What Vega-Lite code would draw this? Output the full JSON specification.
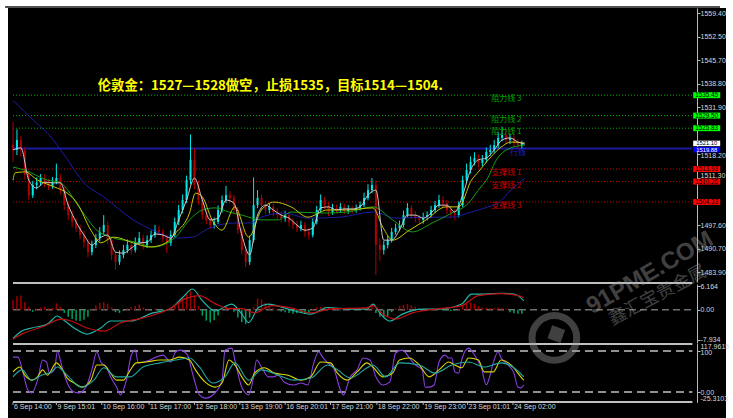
{
"$schema":"https://vega.github.io/schema/vega-lite/v6.json",
"width":718,"height":410,
"autosize":{"type":"none"},
"padding":{"left":8,"top":8,"right":7,"bottom":0},
"background":"#ffffff",
"config":{"view":{"fill":"#000000","stroke":null},
"axis":{"grid":false,"title":null,"labelOverlap":false,"labelFlush":false,"labelBound":false,"domainColor":"#b8b8b8","tickColor":"#b8b8b8","labelColor":"#d8d8d8","labelFont":"Liberation Sans","labelFontSize":7}},
"datasets":{
"candles":[
{"n":0,"o":1521.0,"c":1519.5,"h":1527.6,"l":1516.0,"m":2.5},
{"n":2,"o":1519.5,"c":1522.4,"h":1525.5,"l":1518.0,"m":3.5},
{"n":4,"o":1522.4,"c":1519.5,"h":1523.5,"l":1517.5,"m":3.7},
{"n":6,"o":1519.5,"c":1512.2,"h":1520.3,"l":1510.8,"m":2.0},
{"n":8,"o":1512.2,"c":1506.3,"h":1513.0,"l":1505.0,"m":0.8},
{"n":10,"o":1506.3,"c":1509.3,"h":1510.5,"l":1505.5,"m":-0.5},
{"n":12,"o":1509.3,"c":1509.9,"h":1511.5,"l":1508.0,"m":0.3},
{"n":14,"o":1509.9,"c":1511.3,"h":1512.5,"l":1509.0,"m":0.6},
{"n":16,"o":1511.3,"c":1509.9,"h":1512.4,"l":1508.6,"m":0.8},
{"n":18,"o":1509.9,"c":1509.0,"h":1511.0,"l":1507.8,"m":0.4},
{"n":20,"o":1509.0,"c":1510.1,"h":1511.6,"l":1508.2,"m":0.5},
{"n":22,"o":1510.1,"c":1511.3,"h":1515.5,"l":1509.5,"m":1.7},
{"n":24,"o":1511.3,"c":1507.8,"h":1512.4,"l":1506.5,"m":0.8},
{"n":26,"o":1507.8,"c":1503.4,"h":1508.6,"l":1502.0,"m":-0.8},
{"n":28,"o":1503.4,"c":1500.5,"h":1504.5,"l":1499.0,"m":-1.8},
{"n":30,"o":1500.5,"c":1498.5,"h":1501.8,"l":1497.0,"m":-2.4},
{"n":32,"o":1498.5,"c":1496.7,"h":1499.6,"l":1495.5,"m":-2.8},
{"n":34,"o":1496.7,"c":1494.7,"h":1497.8,"l":1493.5,"m":-2.9},
{"n":36,"o":1494.7,"c":1492.6,"h":1495.9,"l":1491.0,"m":-2.6},
{"n":38,"o":1492.6,"c":1489.7,"h":1493.5,"l":1488.2,"m":-1.8},
{"n":40,"o":1489.7,"c":1491.8,"h":1493.0,"l":1488.8,"m":0.3},
{"n":42,"o":1491.8,"c":1493.8,"h":1495.0,"l":1490.9,"m":1.2},
{"n":44,"o":1493.8,"c":1495.6,"h":1497.0,"l":1492.8,"m":1.8},
{"n":46,"o":1495.6,"c":1497.6,"h":1500.5,"l":1494.8,"m":2.0},
{"n":48,"o":1497.6,"c":1493.2,"h":1498.6,"l":1492.0,"m":1.6},
{"n":50,"o":1493.2,"c":1488.9,"h":1494.0,"l":1487.5,"m":0.6},
{"n":52,"o":1488.9,"c":1486.8,"h":1490.0,"l":1484.6,"m":-0.6},
{"n":54,"o":1486.8,"c":1488.9,"h":1490.2,"l":1486.0,"m":-0.8},
{"n":56,"o":1488.9,"c":1490.3,"h":1491.8,"l":1487.9,"m":-0.3},
{"n":58,"o":1490.3,"c":1491.8,"h":1493.4,"l":1489.4,"m":0.4},
{"n":60,"o":1491.8,"c":1490.3,"h":1492.9,"l":1489.0,"m":0.8},
{"n":62,"o":1490.3,"c":1492.6,"h":1494.0,"l":1489.6,"m":1.0},
{"n":64,"o":1492.6,"c":1493.8,"h":1495.6,"l":1491.8,"m":1.4},
{"n":66,"o":1493.8,"c":1491.8,"h":1494.8,"l":1490.5,"m":0.6},
{"n":68,"o":1491.8,"c":1493.2,"h":1494.6,"l":1490.9,"m":0.2},
{"n":70,"o":1493.2,"c":1494.7,"h":1496.0,"l":1492.4,"m":-0.2},
{"n":72,"o":1494.7,"c":1496.1,"h":1497.6,"l":1493.9,"m":0.3},
{"n":74,"o":1496.1,"c":1495.6,"h":1497.4,"l":1494.6,"m":-0.3},
{"n":76,"o":1495.6,"c":1493.8,"h":1496.5,"l":1492.6,"m":-0.4},
{"n":78,"o":1493.8,"c":1492.4,"h":1494.8,"l":1489.5,"m":0.2},
{"n":80,"o":1492.4,"c":1494.7,"h":1496.0,"l":1491.5,"m":0.3},
{"n":82,"o":1494.7,"c":1498.5,"h":1499.8,"l":1494.0,"m":1.0},
{"n":84,"o":1498.5,"c":1502.0,"h":1503.5,"l":1497.6,"m":2.0},
{"n":86,"o":1502.0,"c":1504.9,"h":1506.5,"l":1501.0,"m":3.0},
{"n":88,"o":1504.9,"c":1510.7,"h":1512.0,"l":1504.0,"m":4.0},
{"n":90,"o":1510.7,"c":1516.6,"h":1524.0,"l":1509.5,"m":5.0},
{"n":92,"o":1516.6,"c":1509.3,"h":1520.0,"l":1508.0,"m":3.5},
{"n":94,"o":1509.3,"c":1504.9,"h":1510.6,"l":1503.6,"m":1.0},
{"n":96,"o":1504.9,"c":1500.5,"h":1506.0,"l":1499.2,"m":-1.5},
{"n":98,"o":1500.5,"c":1499.1,"h":1501.8,"l":1497.8,"m":-2.8},
{"n":100,"o":1499.1,"c":1497.6,"h":1500.2,"l":1496.4,"m":-3.3},
{"n":102,"o":1497.6,"c":1498.5,"h":1499.8,"l":1496.6,"m":-2.7},
{"n":104,"o":1498.5,"c":1502.0,"h":1503.3,"l":1497.9,"m":-1.5},
{"n":106,"o":1502.0,"c":1504.9,"h":1506.2,"l":1501.2,"m":0.4},
{"n":108,"o":1504.9,"c":1506.3,"h":1509.0,"l":1504.0,"m":0.8},
{"n":110,"o":1506.3,"c":1505.5,"h":1507.5,"l":1504.2,"m":0.6},
{"n":112,"o":1505.5,"c":1502.0,"h":1506.4,"l":1500.8,"m":-0.5},
{"n":114,"o":1502.0,"c":1496.1,"h":1502.8,"l":1495.0,"m":-2.0},
{"n":116,"o":1496.1,"c":1490.3,"h":1497.0,"l":1489.0,"m":-3.2},
{"n":118,"o":1490.3,"c":1486.8,"h":1491.2,"l":1485.3,"m":-3.7},
{"n":120,"o":1486.8,"c":1493.2,"h":1494.5,"l":1486.0,"m":-2.0},
{"n":122,"o":1493.2,"c":1503.4,"h":1511.5,"l":1492.5,"m":0.8},
{"n":124,"o":1503.4,"c":1505.5,"h":1507.8,"l":1502.5,"m":2.9},
{"n":126,"o":1505.5,"c":1503.4,"h":1506.5,"l":1502.2,"m":2.7},
{"n":128,"o":1503.4,"c":1502.0,"h":1504.6,"l":1500.8,"m":1.8},
{"n":130,"o":1502.0,"c":1502.9,"h":1504.0,"l":1501.0,"m":1.0},
{"n":132,"o":1502.9,"c":1501.4,"h":1503.8,"l":1500.2,"m":0.5},
{"n":134,"o":1501.4,"c":1500.5,"h":1502.6,"l":1499.4,"m":0.2},
{"n":136,"o":1500.5,"c":1499.6,"h":1501.5,"l":1498.4,"m":-0.4},
{"n":138,"o":1499.6,"c":1500.5,"h":1501.8,"l":1498.6,"m":-0.6},
{"n":140,"o":1500.5,"c":1498.5,"h":1501.4,"l":1497.2,"m":-0.8},
{"n":142,"o":1498.5,"c":1497.6,"h":1499.6,"l":1496.4,"m":-1.0},
{"n":144,"o":1497.6,"c":1496.7,"h":1498.8,"l":1495.5,"m":-0.9},
{"n":146,"o":1496.7,"c":1497.6,"h":1498.9,"l":1495.8,"m":-0.7},
{"n":148,"o":1497.6,"c":1495.6,"h":1498.5,"l":1494.2,"m":-1.0},
{"n":150,"o":1495.6,"c":1494.7,"h":1496.8,"l":1493.4,"m":-0.8},
{"n":152,"o":1494.7,"c":1498.5,"h":1499.6,"l":1494.0,"m":0.2},
{"n":154,"o":1498.5,"c":1502.0,"h":1503.2,"l":1497.8,"m":0.6},
{"n":156,"o":1502.0,"c":1504.9,"h":1506.5,"l":1501.2,"m":0.8},
{"n":158,"o":1504.9,"c":1503.4,"h":1505.9,"l":1502.2,"m":0.7},
{"n":160,"o":1503.4,"c":1501.4,"h":1504.2,"l":1500.2,"m":0.5},
{"n":162,"o":1501.4,"c":1502.6,"h":1503.8,"l":1500.6,"m":0.3},
{"n":164,"o":1502.6,"c":1502.0,"h":1503.6,"l":1501.0,"m":0.2},
{"n":166,"o":1502.0,"c":1502.9,"h":1504.0,"l":1501.2,"m":-0.2},
{"n":168,"o":1502.9,"c":1501.7,"h":1503.8,"l":1500.8,"m":0.1},
{"n":170,"o":1501.7,"c":1502.3,"h":1503.4,"l":1500.9,"m":0.2},
{"n":172,"o":1502.3,"c":1502.0,"h":1503.2,"l":1501.0,"m":0.4},
{"n":174,"o":1502.0,"c":1502.6,"h":1503.6,"l":1501.2,"m":0.5},
{"n":176,"o":1502.6,"c":1503.4,"h":1504.5,"l":1501.8,"m":0.5},
{"n":178,"o":1503.4,"c":1505.5,"h":1507.0,"l":1502.8,"m":0.6},
{"n":180,"o":1505.5,"c":1507.8,"h":1509.5,"l":1504.8,"m":0.8},
{"n":182,"o":1507.8,"c":1509.3,"h":1511.3,"l":1506.9,"m":0.9},
{"n":184,"o":1509.3,"c":1491.8,"h":1510.6,"l":1483.1,"m":-0.8},
{"n":186,"o":1491.8,"c":1490.3,"h":1493.6,"l":1487.2,"m":-1.8},
{"n":188,"o":1490.3,"c":1491.8,"h":1493.0,"l":1489.0,"m":-2.0},
{"n":190,"o":1491.8,"c":1493.2,"h":1494.5,"l":1490.8,"m":-1.6},
{"n":192,"o":1493.2,"c":1495.6,"h":1496.8,"l":1492.5,"m":-0.6},
{"n":194,"o":1495.6,"c":1496.7,"h":1498.0,"l":1494.8,"m":0.4},
{"n":196,"o":1496.7,"c":1497.6,"h":1498.9,"l":1495.8,"m":1.0},
{"n":198,"o":1497.6,"c":1500.5,"h":1501.8,"l":1496.9,"m":1.3},
{"n":200,"o":1500.5,"c":1502.6,"h":1504.0,"l":1499.8,"m":1.5},
{"n":202,"o":1502.6,"c":1500.5,"h":1503.4,"l":1499.4,"m":1.2},
{"n":204,"o":1500.5,"c":1499.6,"h":1501.7,"l":1498.4,"m":0.8},
{"n":206,"o":1499.6,"c":1499.1,"h":1500.6,"l":1497.9,"m":0.3},
{"n":208,"o":1499.1,"c":1499.9,"h":1501.2,"l":1498.0,"m":0.1},
{"n":210,"o":1499.9,"c":1500.5,"h":1501.6,"l":1499.0,"m":-0.2},
{"n":212,"o":1500.5,"c":1502.0,"h":1503.2,"l":1499.7,"m":0.1},
{"n":214,"o":1502.0,"c":1503.4,"h":1504.6,"l":1501.2,"m":0.2},
{"n":216,"o":1503.4,"c":1504.9,"h":1506.4,"l":1502.6,"m":0.3},
{"n":218,"o":1504.9,"c":1504.0,"h":1506.0,"l":1502.8,"m":-0.1},
{"n":220,"o":1504.0,"c":1502.0,"h":1504.9,"l":1500.8,"m":-0.2},
{"n":222,"o":1502.0,"c":1501.1,"h":1503.0,"l":1499.9,"m":-0.3},
{"n":224,"o":1501.1,"c":1500.5,"h":1502.2,"l":1499.0,"m":-0.2},
{"n":226,"o":1500.5,"c":1503.4,"h":1504.5,"l":1499.8,"m":0.3},
{"n":228,"o":1503.4,"c":1510.7,"h":1512.0,"l":1502.8,"m":1.0},
{"n":230,"o":1510.7,"c":1513.6,"h":1515.5,"l":1509.8,"m":1.6},
{"n":232,"o":1513.6,"c":1516.0,"h":1517.6,"l":1512.6,"m":1.9},
{"n":234,"o":1516.0,"c":1517.1,"h":1518.8,"l":1515.0,"m":1.6},
{"n":236,"o":1517.1,"c":1515.7,"h":1518.2,"l":1514.4,"m":1.0},
{"n":238,"o":1515.7,"c":1516.6,"h":1518.0,"l":1514.8,"m":0.6},
{"n":240,"o":1516.6,"c":1518.9,"h":1520.2,"l":1515.8,"m":0.5},
{"n":242,"o":1518.9,"c":1519.5,"h":1521.0,"l":1517.8,"m":0.4},
{"n":244,"o":1519.5,"c":1520.9,"h":1522.4,"l":1518.6,"m":0.5},
{"n":246,"o":1520.9,"c":1523.0,"h":1524.6,"l":1520.0,"m":0.6},
{"n":248,"o":1523.0,"c":1523.8,"h":1526.3,"l":1522.0,"m":0.5},
{"n":250,"o":1523.8,"c":1522.4,"h":1525.5,"l":1521.4,"m":0.3},
{"n":252,"o":1522.4,"c":1523.0,"h":1524.2,"l":1521.2,"m":-0.6},
{"n":254,"o":1523.0,"c":1521.5,"h":1523.8,"l":1520.5,"m":-0.9},
{"n":256,"o":1521.5,"c":1520.9,"h":1522.6,"l":1519.8,"m":-1.0},
{"n":258,"o":1520.9,"c":1521.2,"h":1522.2,"l":1519.9,"m":-1.0}
],
"ma":[
{"n":0,"p":1534.0,"s":"navy"},{"n":6,"p":1530.5,"s":"navy"},{"n":13.5,"p":1526.5,"s":"navy"},{"n":18.5,"p":1523.8,"s":"navy"},{"n":26,"p":1518.0,"s":"navy"},{"n":36,"p":1509.9,"s":"navy"},{"n":46,"p":1505.8,"s":"navy"},{"n":61,"p":1499.1,"s":"navy"},{"n":71,"p":1496.1,"s":"navy"},{"n":82.5,"p":1493.8,"s":"navy"},{"n":91,"p":1494.1,"s":"navy"},{"n":99.5,"p":1496.7,"s":"navy"},{"n":112.5,"p":1498.2,"s":"navy"},{"n":121,"p":1498.2,"s":"navy"},{"n":124.5,"p":1499.6,"s":"navy"},{"n":137.5,"p":1501.1,"s":"navy"},{"n":149.5,"p":1499.6,"s":"navy"},{"n":166,"p":1499.9,"s":"navy"},{"n":182.5,"p":1501.4,"s":"navy"},{"n":194.5,"p":1499.6,"s":"navy"},{"n":209.5,"p":1499.9,"s":"navy"},{"n":222.5,"p":1499.9,"s":"navy"},{"n":232.5,"p":1501.4,"s":"navy"},{"n":241,"p":1502.9,"s":"navy"},{"n":246,"p":1504.0,"s":"navy"},{"n":252.5,"p":1507.8,"s":"navy"},{"n":259.5,"p":1511.3,"s":"navy"},
{"n":0,"p":1514.5,"s":"green"},{"n":6,"p":1513.6,"s":"green"},{"n":17.5,"p":1510.7,"s":"green"},{"n":23.5,"p":1510.1,"s":"green"},{"n":34.5,"p":1502.0,"s":"green"},{"n":42.5,"p":1496.1,"s":"green"},{"n":49.5,"p":1494.1,"s":"green"},{"n":62.5,"p":1492.6,"s":"green"},{"n":71,"p":1491.2,"s":"green"},{"n":82.5,"p":1494.1,"s":"green"},{"n":89.5,"p":1499.1,"s":"green"},{"n":96,"p":1502.0,"s":"green"},{"n":102.5,"p":1502.6,"s":"green"},{"n":109.5,"p":1501.4,"s":"green"},{"n":116,"p":1500.5,"s":"green"},{"n":126,"p":1499.1,"s":"green"},{"n":134.5,"p":1499.1,"s":"green"},{"n":141,"p":1501.4,"s":"green"},{"n":157.5,"p":1501.1,"s":"green"},{"n":169.5,"p":1501.4,"s":"green"},{"n":182.5,"p":1502.9,"s":"green"},{"n":192.5,"p":1499.1,"s":"green"},{"n":202.5,"p":1495.6,"s":"green"},{"n":212.5,"p":1498.2,"s":"green"},{"n":222.5,"p":1501.1,"s":"green"},{"n":231,"p":1504.0,"s":"green"},{"n":236,"p":1507.8,"s":"green"},{"n":241,"p":1511.6,"s":"green"},{"n":244.5,"p":1516.0,"s":"green"},{"n":252.5,"p":1520.1,"s":"green"},{"n":259.5,"p":1520.9,"s":"green"},
{"n":0,"p":1510.7,"s":"yellow"},{"n":1,"p":1512.8,"s":"yellow"},{"n":6,"p":1513.1,"s":"yellow"},{"n":12.5,"p":1510.7,"s":"yellow"},{"n":21,"p":1508.7,"s":"yellow"},{"n":27.5,"p":1506.9,"s":"yellow"},{"n":32.5,"p":1504.0,"s":"yellow"},{"n":39.5,"p":1496.1,"s":"yellow"},{"n":44.5,"p":1492.4,"s":"yellow"},{"n":51,"p":1494.1,"s":"yellow"},{"n":61,"p":1492.4,"s":"yellow"},{"n":69.5,"p":1491.2,"s":"yellow"},{"n":77.5,"p":1492.4,"s":"yellow"},{"n":82.5,"p":1495.3,"s":"yellow"},{"n":89.5,"p":1501.1,"s":"yellow"},{"n":92.5,"p":1506.9,"s":"yellow"},{"n":96,"p":1505.8,"s":"yellow"},{"n":101,"p":1499.1,"s":"yellow"},{"n":106,"p":1496.1,"s":"yellow"},{"n":112.5,"p":1502.9,"s":"yellow"},{"n":119.5,"p":1494.1,"s":"yellow"},{"n":126,"p":1502.0,"s":"yellow"},{"n":132.5,"p":1504.3,"s":"yellow"},{"n":141,"p":1502.9,"s":"yellow"},{"n":149.5,"p":1499.9,"s":"yellow"},{"n":159.5,"p":1502.0,"s":"yellow"},{"n":169.5,"p":1502.0,"s":"yellow"},{"n":182.5,"p":1502.6,"s":"yellow"},{"n":187.5,"p":1497.0,"s":"yellow"},{"n":192.5,"p":1493.2,"s":"yellow"},{"n":201,"p":1496.1,"s":"yellow"},{"n":209.5,"p":1499.1,"s":"yellow"},{"n":219.5,"p":1502.9,"s":"yellow"},{"n":226,"p":1502.9,"s":"yellow"},{"n":232.5,"p":1510.7,"s":"yellow"},{"n":236,"p":1513.1,"s":"yellow"},{"n":241,"p":1516.6,"s":"yellow"},{"n":247.5,"p":1520.3,"s":"yellow"},{"n":252.5,"p":1521.8,"s":"yellow"},{"n":259.5,"p":1521.5,"s":"yellow"},
{"n":0,"p":1519.5,"s":"white"},{"n":4,"p":1520.1,"s":"white"},{"n":8,"p":1510.7,"s":"white"},{"n":12,"p":1508.4,"s":"white"},{"n":16,"p":1510.1,"s":"white"},{"n":20,"p":1509.9,"s":"white"},{"n":24,"p":1509.9,"s":"white"},{"n":28,"p":1503.4,"s":"white"},{"n":32,"p":1498.5,"s":"white"},{"n":36,"p":1494.7,"s":"white"},{"n":40,"p":1491.8,"s":"white"},{"n":44,"p":1493.8,"s":"white"},{"n":48,"p":1494.7,"s":"white"},{"n":52,"p":1489.7,"s":"white"},{"n":56,"p":1489.4,"s":"white"},{"n":60,"p":1490.9,"s":"white"},{"n":64,"p":1492.4,"s":"white"},{"n":68,"p":1492.6,"s":"white"},{"n":72,"p":1495.0,"s":"white"},{"n":76,"p":1494.7,"s":"white"},{"n":80,"p":1493.8,"s":"white"},{"n":84,"p":1499.1,"s":"white"},{"n":88,"p":1504.9,"s":"white"},{"n":92,"p":1511.3,"s":"white"},{"n":96,"p":1504.9,"s":"white"},{"n":100,"p":1499.1,"s":"white"},{"n":104,"p":1499.6,"s":"white"},{"n":108,"p":1504.9,"s":"white"},{"n":112,"p":1504.0,"s":"white"},{"n":116,"p":1494.7,"s":"white"},{"n":120,"p":1488.9,"s":"white"},{"n":124,"p":1500.5,"s":"white"},{"n":128,"p":1503.4,"s":"white"},{"n":132,"p":1502.0,"s":"white"},{"n":136,"p":1500.5,"s":"white"},{"n":140,"p":1499.6,"s":"white"},{"n":144,"p":1497.6,"s":"white"},{"n":148,"p":1496.1,"s":"white"},{"n":152,"p":1496.7,"s":"white"},{"n":156,"p":1502.6,"s":"white"},{"n":160,"p":1502.9,"s":"white"},{"n":164,"p":1502.0,"s":"white"},{"n":168,"p":1502.3,"s":"white"},{"n":172,"p":1502.3,"s":"white"},{"n":176,"p":1502.9,"s":"white"},{"n":180,"p":1506.3,"s":"white"},{"n":184,"p":1507.8,"s":"white"},{"n":188,"p":1493.2,"s":"white"},{"n":192,"p":1493.2,"s":"white"},{"n":196,"p":1496.1,"s":"white"},{"n":200,"p":1500.5,"s":"white"},{"n":204,"p":1500.5,"s":"white"},{"n":208,"p":1499.6,"s":"white"},{"n":212,"p":1501.1,"s":"white"},{"n":216,"p":1503.4,"s":"white"},{"n":220,"p":1503.4,"s":"white"},{"n":224,"p":1501.4,"s":"white"},{"n":228,"p":1506.3,"s":"white"},{"n":232,"p":1513.6,"s":"white"},{"n":236,"p":1516.6,"s":"white"},{"n":240,"p":1517.1,"s":"white"},{"n":244,"p":1519.5,"s":"white"},{"n":248,"p":1522.4,"s":"white"},{"n":252,"p":1523.0,"s":"white"},{"n":256,"p":1521.8,"s":"white"},{"n":259.5,"p":1521.2,"s":"white"}
],
"macd":[
{"n":0,"v":-7.4,"s":"macd"},{"n":4.5,"v":-5.5,"s":"macd"},{"n":9.5,"v":-4.7,"s":"macd"},{"n":17.5,"v":-3.7,"s":"macd"},{"n":22.5,"v":-1.6,"s":"macd"},{"n":25,"v":-2.4,"s":"macd"},{"n":31,"v":-4.7,"s":"macd"},{"n":37.5,"v":-6.3,"s":"macd"},{"n":44.5,"v":-4.7,"s":"macd"},{"n":49.5,"v":-2.9,"s":"macd"},{"n":59.5,"v":-2.9,"s":"macd"},{"n":71,"v":-0.8,"s":"macd"},{"n":79.5,"v":0.2,"s":"macd"},{"n":86,"v":3.2,"s":"macd"},{"n":91,"v":5.4,"s":"macd"},{"n":96,"v":2.4,"s":"macd"},{"n":102.5,"v":-0.3,"s":"macd"},{"n":111,"v":1.5,"s":"macd"},{"n":116,"v":-1.1,"s":"macd"},{"n":119.5,"v":-3.3,"s":"macd"},{"n":124.5,"v":0.6,"s":"macd"},{"n":129.5,"v":1.5,"s":"macd"},{"n":139.5,"v":0.2,"s":"macd"},{"n":151,"v":-1.1,"s":"macd"},{"n":159.5,"v":0.6,"s":"macd"},{"n":171,"v":0.2,"s":"macd"},{"n":179.5,"v":0.2,"s":"macd"},{"n":182.5,"v":1.5,"s":"macd"},{"n":186,"v":-0.8,"s":"macd"},{"n":191,"v":-2.9,"s":"macd"},{"n":197.5,"v":-1.1,"s":"macd"},{"n":207.5,"v":0.2,"s":"macd"},{"n":216,"v":0.2,"s":"macd"},{"n":227.5,"v":1.5,"s":"macd"},{"n":232.5,"v":4.1,"s":"macd"},{"n":239,"v":4.1,"s":"macd"},{"n":247.5,"v":4.3,"s":"macd"},{"n":254,"v":4.1,"s":"macd"},{"n":259,"v":2.4,"s":"macd"},
{"n":0,"v":-7.6,"s":"sig"},{"n":4.5,"v":-6.3,"s":"sig"},{"n":16,"v":-4.2,"s":"sig"},{"n":24.5,"v":-2.4,"s":"sig"},{"n":29.5,"v":-2.9,"s":"sig"},{"n":37.5,"v":-4.7,"s":"sig"},{"n":46,"v":-5.5,"s":"sig"},{"n":54.5,"v":-3.4,"s":"sig"},{"n":66,"v":-2.1,"s":"sig"},{"n":79.5,"v":0.3,"s":"sig"},{"n":87.5,"v":2.9,"s":"sig"},{"n":94.5,"v":3.7,"s":"sig"},{"n":102.5,"v":1.6,"s":"sig"},{"n":109.5,"v":0.3,"s":"sig"},{"n":116,"v":0.3,"s":"sig"},{"n":122.5,"v":-0.8,"s":"sig"},{"n":131,"v":1.1,"s":"sig"},{"n":141,"v":0.5,"s":"sig"},{"n":151,"v":-0.8,"s":"sig"},{"n":162.5,"v":0.3,"s":"sig"},{"n":179.5,"v":0.5,"s":"sig"},{"n":182.5,"v":1.1,"s":"sig"},{"n":187.5,"v":-1.1,"s":"sig"},{"n":194,"v":-2.4,"s":"sig"},{"n":202.5,"v":-0.8,"s":"sig"},{"n":216,"v":0.3,"s":"sig"},{"n":227.5,"v":1.1,"s":"sig"},{"n":236,"v":3.7,"s":"sig"},{"n":247.5,"v":4.2,"s":"sig"},{"n":256,"v":3.7,"s":"sig"},{"n":259,"v":3.2,"s":"sig"}
],
"stoch":[
{"n":0,"v":85,"s":"k"},{"n":2.5,"v":85,"s":"k"},{"n":5,"v":49,"s":"k"},{"n":7.5,"v":5,"s":"k"},{"n":9.5,"v":-2,"s":"k"},{"n":12.5,"v":29,"s":"k"},{"n":15,"v":78,"s":"k"},{"n":17,"v":73,"s":"k"},{"n":18.5,"v":46,"s":"k"},{"n":21,"v":54,"s":"k"},{"n":22.5,"v":98,"s":"k"},{"n":25,"v":59,"s":"k"},{"n":27.5,"v":22,"s":"k"},{"n":31,"v":0,"s":"k"},{"n":33.5,"v":-2,"s":"k"},{"n":37,"v":12,"s":"k"},{"n":40,"v":54,"s":"k"},{"n":42.5,"v":98,"s":"k"},{"n":44.5,"v":73,"s":"k"},{"n":46,"v":66,"s":"k"},{"n":47.5,"v":59,"s":"k"},{"n":49.5,"v":37,"s":"k"},{"n":52.5,"v":12,"s":"k"},{"n":54.5,"v":-7,"s":"k"},{"n":57.5,"v":29,"s":"k"},{"n":60,"v":90,"s":"k"},{"n":62,"v":102,"s":"k"},{"n":63.5,"v":71,"s":"k"},{"n":66,"v":73,"s":"k"},{"n":69.5,"v":78,"s":"k"},{"n":72.5,"v":85,"s":"k"},{"n":76,"v":90,"s":"k"},{"n":80,"v":73,"s":"k"},{"n":82.5,"v":98,"s":"k"},{"n":85,"v":102,"s":"k"},{"n":88.5,"v":90,"s":"k"},{"n":91,"v":46,"s":"k"},{"n":94.5,"v":-7,"s":"k"},{"n":97.5,"v":-15,"s":"k"},{"n":102.5,"v":-2,"s":"k"},{"n":106,"v":29,"s":"k"},{"n":107.5,"v":102,"s":"k"},{"n":111,"v":107,"s":"k"},{"n":112.5,"v":78,"s":"k"},{"n":116,"v":12,"s":"k"},{"n":119.5,"v":-7,"s":"k"},{"n":122,"v":37,"s":"k"},{"n":123.5,"v":78,"s":"k"},{"n":126,"v":61,"s":"k"},{"n":129.5,"v":37,"s":"k"},{"n":132,"v":37,"s":"k"},{"n":134.5,"v":41,"s":"k"},{"n":137.5,"v":24,"s":"k"},{"n":142.5,"v":17,"s":"k"},{"n":146,"v":22,"s":"k"},{"n":149.5,"v":17,"s":"k"},{"n":152.5,"v":71,"s":"k"},{"n":155,"v":98,"s":"k"},{"n":157,"v":85,"s":"k"},{"n":159.5,"v":71,"s":"k"},{"n":162.5,"v":59,"s":"k"},{"n":166,"v":5,"s":"k"},{"n":167.5,"v":-7,"s":"k"},{"n":171,"v":37,"s":"k"},{"n":174.5,"v":54,"s":"k"},{"n":177.5,"v":83,"s":"k"},{"n":181,"v":78,"s":"k"},{"n":184,"v":37,"s":"k"},{"n":187.5,"v":17,"s":"k"},{"n":191,"v":24,"s":"k"},{"n":194,"v":95,"s":"k"},{"n":197.5,"v":102,"s":"k"},{"n":201,"v":83,"s":"k"},{"n":204,"v":66,"s":"k"},{"n":207.5,"v":54,"s":"k"},{"n":209,"v":12,"s":"k"},{"n":211,"v":12,"s":"k"},{"n":213.5,"v":17,"s":"k"},{"n":216,"v":73,"s":"k"},{"n":219,"v":90,"s":"k"},{"n":221,"v":83,"s":"k"},{"n":222.5,"v":83,"s":"k"},{"n":224,"v":49,"s":"k"},{"n":226,"v":46,"s":"k"},{"n":227.5,"v":78,"s":"k"},{"n":231,"v":107,"s":"k"},{"n":234,"v":90,"s":"k"},{"n":237.5,"v":59,"s":"k"},{"n":240,"v":17,"s":"k"},{"n":241.5,"v":34,"s":"k"},{"n":243.5,"v":71,"s":"k"},{"n":246,"v":98,"s":"k"},{"n":247.5,"v":83,"s":"k"},{"n":251,"v":66,"s":"k"},{"n":254,"v":46,"s":"k"},{"n":256,"v":12,"s":"k"},{"n":257.5,"v":10,"s":"k"},{"n":259,"v":17,"s":"k"},
{"n":0,"v":49,"s":"d"},{"n":3.5,"v":61,"s":"d"},{"n":6,"v":41,"s":"d"},{"n":9.5,"v":29,"s":"d"},{"n":12.5,"v":37,"s":"d"},{"n":15,"v":54,"s":"d"},{"n":17.5,"v":41,"s":"d"},{"n":22,"v":71,"s":"d"},{"n":24.5,"v":59,"s":"d"},{"n":27.5,"v":34,"s":"d"},{"n":31,"v":22,"s":"d"},{"n":35,"v":12,"s":"d"},{"n":39.5,"v":29,"s":"d"},{"n":42.5,"v":66,"s":"d"},{"n":46,"v":66,"s":"d"},{"n":49.5,"v":46,"s":"d"},{"n":52.5,"v":29,"s":"d"},{"n":56,"v":29,"s":"d"},{"n":59.5,"v":54,"s":"d"},{"n":62.5,"v":71,"s":"d"},{"n":67.5,"v":73,"s":"d"},{"n":74.5,"v":78,"s":"d"},{"n":79.5,"v":78,"s":"d"},{"n":84.5,"v":85,"s":"d"},{"n":89.5,"v":78,"s":"d"},{"n":92.5,"v":54,"s":"d"},{"n":97.5,"v":24,"s":"d"},{"n":102.5,"v":12,"s":"d"},{"n":106,"v":22,"s":"d"},{"n":109.5,"v":78,"s":"d"},{"n":112.5,"v":66,"s":"d"},{"n":116,"v":37,"s":"d"},{"n":119.5,"v":17,"s":"d"},{"n":122.5,"v":46,"s":"d"},{"n":127.5,"v":59,"s":"d"},{"n":132.5,"v":46,"s":"d"},{"n":139.5,"v":41,"s":"d"},{"n":146,"v":29,"s":"d"},{"n":151,"v":37,"s":"d"},{"n":156,"v":73,"s":"d"},{"n":161,"v":71,"s":"d"},{"n":164.5,"v":46,"s":"d"},{"n":169.5,"v":29,"s":"d"},{"n":174.5,"v":49,"s":"d"},{"n":179.5,"v":71,"s":"d"},{"n":182.5,"v":61,"s":"d"},{"n":187.5,"v":37,"s":"d"},{"n":192.5,"v":46,"s":"d"},{"n":196,"v":78,"s":"d"},{"n":201,"v":83,"s":"d"},{"n":206,"v":66,"s":"d"},{"n":211,"v":37,"s":"d"},{"n":216,"v":54,"s":"d"},{"n":221,"v":73,"s":"d"},{"n":224,"v":66,"s":"d"},{"n":227.5,"v":59,"s":"d"},{"n":231,"v":83,"s":"d"},{"n":236,"v":78,"s":"d"},{"n":239,"v":49,"s":"d"},{"n":243.5,"v":49,"s":"d"},{"n":247.5,"v":78,"s":"d"},{"n":252.5,"v":66,"s":"d"},{"n":257.5,"v":37,"s":"d"},{"n":259,"v":29,"s":"d"},
{"n":0,"v":37,"s":"s"},{"n":4.5,"v":54,"s":"s"},{"n":9.5,"v":29,"s":"s"},{"n":14.5,"v":41,"s":"s"},{"n":19.5,"v":49,"s":"s"},{"n":22.5,"v":61,"s":"s"},{"n":27.5,"v":41,"s":"s"},{"n":34.5,"v":12,"s":"s"},{"n":41,"v":29,"s":"s"},{"n":46,"v":59,"s":"s"},{"n":52.5,"v":37,"s":"s"},{"n":59.5,"v":37,"s":"s"},{"n":66,"v":61,"s":"s"},{"n":74.5,"v":71,"s":"s"},{"n":82.5,"v":78,"s":"s"},{"n":89.5,"v":83,"s":"s"},{"n":94.5,"v":61,"s":"s"},{"n":101,"v":22,"s":"s"},{"n":107.5,"v":37,"s":"s"},{"n":112.5,"v":71,"s":"s"},{"n":119.5,"v":29,"s":"s"},{"n":126,"v":54,"s":"s"},{"n":134.5,"v":41,"s":"s"},{"n":142.5,"v":29,"s":"s"},{"n":151,"v":34,"s":"s"},{"n":159.5,"v":66,"s":"s"},{"n":164.5,"v":54,"s":"s"},{"n":171,"v":34,"s":"s"},{"n":179.5,"v":59,"s":"s"},{"n":182.5,"v":66,"s":"s"},{"n":189,"v":37,"s":"s"},{"n":196,"v":71,"s":"s"},{"n":206,"v":66,"s":"s"},{"n":214,"v":46,"s":"s"},{"n":222.5,"v":66,"s":"s"},{"n":231,"v":73,"s":"s"},{"n":239,"v":61,"s":"s"},{"n":247.5,"v":71,"s":"s"},{"n":254,"v":59,"s":"s"},{"n":259,"v":37,"s":"s"}
],
"levels":[
{"p":1535.45,"k":"r","lab":"阻力线 3"},{"p":1529.50,"k":"r","lab":"阻力线 2"},{"p":1525.83,"k":"r","lab":"阻力线 1"},
{"p":1519.88,"k":"b","lab":"行线"},
{"p":1513.93,"k":"s","lab":"支撑线 1"},{"p":1510.26,"k":"s","lab":"支撑线 2"},{"p":1504.33,"k":"s","lab":"支撑线 3"}
],
"tags":[
{"p":1535.45,"k":"r","lab":"1535.45"},{"p":1529.50,"k":"r","lab":"1529.50"},{"p":1525.83,"k":"r","lab":"1525.83"},
{"p":1521.10,"k":"w","lab":"1521.10"},{"p":1519.88,"k":"b","lab":"1519.88"},
{"p":1513.93,"k":"s","lab":"1513.93"},{"p":1510.26,"k":"s","lab":"1510.26"},{"p":1504.33,"k":"s","lab":"1504.33"}
],
"times":[
{"n":0,"lab":"6 Sep 14:00"},{"n":22,"lab":"9 Sep 15:01"},{"n":45,"lab":"10 Sep 16:00"},{"n":69,"lab":"11 Sep 17:00"},{"n":92,"lab":"12 Sep 18:00"},{"n":115,"lab":"13 Sep 19:00"},{"n":138,"lab":"16 Sep 20:01"},{"n":161,"lab":"17 Sep 21:00"},{"n":184.5,"lab":"18 Sep 22:00"},{"n":208,"lab":"19 Sep 23:00"},{"n":230.5,"lab":"23 Sep 01:01"},{"n":253.5,"lab":"24 Sep 02:00"}
],
"macdrules":[{"v":6.95},{"v":-8.85}],
"zero":[{"v":0}],
"stochlev":[{"v":0}],
"stoch100":[{"v":100}],
"stochbot":[{"v":-24.3}],
"one":[{"v":0}]
},
"layer":[
{"data":{"name":"levels"},"transform":[{"filter":"datum.k != 'b'"}],
 "mark":{"type":"rule","strokeDash":[1,2],"strokeWidth":1},
 "encoding":{"x":{"datum":0,"type":"quantitative","scale":{"domain":[0,359],"nice":false,"zero":false},"axis":null},"x2":{"datum":344.5},
  "y":{"field":"p","type":"quantitative","scale":{"domain":[1481.0,1560.86],"range":[274,0],"nice":false,"zero":false},"axis":null},
  "color":{"condition":{"test":"datum.k=='r'","value":"#00b000"},"value":"#c00000"}}},
{"data":{"name":"levels"},"transform":[{"filter":"datum.k == 'b'"}],
 "mark":{"type":"rule","strokeWidth":2,"color":"#1a1aa0"},
 "encoding":{"x":{"datum":0,"type":"quantitative","axis":null},"x2":{"datum":344.5},
  "y":{"field":"p","type":"quantitative","scale":{"domain":[1481.0,1560.86],"range":[274,0],"nice":false,"zero":false},"axis":null}}},
{"data":{"name":"candles"},"mark":{"type":"rule","strokeWidth":1},
 "encoding":{"x":{"field":"n","type":"quantitative","axis":null},
  "y":{"field":"l","type":"quantitative","scale":{"domain":[1481.0,1560.86],"range":[274,0],"nice":false,"zero":false},
   "axis":{"orient":"right","offset":-29,"values":[1483.9,1490.7,1497.6,1531.9,1538.8,1545.7,1552.5,1559.4],"labelExpr":"format(datum.value,'.2f')","tickSize":3,"labelPadding":0}},
  "y2":{"field":"h"},
  "color":{"condition":{"test":"datum.c >= datum.o","value":"#00e8e8"},"value":"#b00000"}}},
{"data":{"name":"candles"},"mark":{"type":"bar","size":2},
 "encoding":{"x":{"field":"n","type":"quantitative","axis":null},
  "y":{"field":"o","type":"quantitative","scale":{"domain":[1481.0,1560.86],"range":[274,0],"nice":false,"zero":false},
   "axis":{"orient":"right","offset":-29,"values":[1511.3],"labelExpr":"format(datum.value,'.2f')","tickSize":3,"labelPadding":0,"labelOffset":-3,"domain":false}},
  "y2":{"field":"c"},
  "color":{"condition":{"test":"datum.c >= datum.o","value":"#00e8e8"},"value":"#b00000"}}},
{"data":{"name":"ma"},"mark":{"type":"line","strokeWidth":1,"interpolate":"monotone"},
 "encoding":{"x":{"field":"n","type":"quantitative","axis":null},
  "y":{"field":"p","type":"quantitative","scale":{"domain":[1481.0,1560.86],"range":[274,0],"nice":false,"zero":false},
   "axis":{"orient":"right","offset":-29,"values":[1518.2],"labelExpr":"format(datum.value,'.2f')","tickSize":3,"labelPadding":0,"labelOffset":1.5,"domain":false}},
  "color":{"field":"s","type":"nominal","legend":null,"scale":{"domain":["navy","green","yellow","white","macd","sig","k","d","s"],"range":["#1c1ca8","#14a014","#c8c800","#c8c8c8","#20b8a8","#c01010","#8a3ee0","#d8d800","#20a8a0"]}}}},
{"data":{"name":"levels"},"transform":[{"filter":"datum.k != 'b'"}],
 "mark":{"type":"text","align":"left","baseline":"middle","dy":4,"fontSize":8,"font":"Noto Sans CJK SC"},
 "encoding":{"x":{"datum":242.5,"type":"quantitative","axis":null},
  "y":{"field":"p","type":"quantitative","scale":{"domain":[1481.0,1560.86],"range":[274,0],"nice":false,"zero":false},"axis":null},
  "text":{"field":"lab"},
  "color":{"condition":{"test":"datum.k=='r'","value":"#00a000"},"value":"#c00000"}}},
{"data":{"name":"levels"},"transform":[{"filter":"datum.k == 'b'"}],
 "mark":{"type":"text","align":"left","baseline":"middle","dy":4,"fontSize":8,"font":"Noto Sans CJK SC","color":"#2020c0"},
 "encoding":{"x":{"datum":252,"type":"quantitative","axis":null},
  "y":{"field":"p","type":"quantitative","scale":{"domain":[1481.0,1560.86],"range":[274,0],"nice":false,"zero":false},"axis":null},
  "text":{"field":"lab"}}},
{"data":{"name":"tags"},"transform":[{"filter":"datum.k != 'w' && datum.k != 'b'"}],"mark":{"type":"tick","orient":"horizontal","size":27,"thickness":6,"opacity":1},
 "encoding":{"x":{"datum":351.75,"type":"quantitative","axis":null},
  "y":{"field":"p","type":"quantitative","scale":{"domain":[1481.0,1560.86],"range":[274,0],"nice":false,"zero":false},"axis":null},
  "color":{"condition":{"test":"datum.k=='r'","value":"#00ff00"},"value":"#ff0000"}}},
{"data":{"name":"tags"},"transform":[{"filter":"datum.k == 'w'"}],"mark":{"type":"tick","orient":"horizontal","size":27,"thickness":5.5,"opacity":1,"color":"#ffffff","yOffset":-1},
 "encoding":{"x":{"datum":351.75,"type":"quantitative","axis":null},
  "y":{"field":"p","type":"quantitative","scale":{"domain":[1481.0,1560.86],"range":[274,0],"nice":false,"zero":false},"axis":null}}},
{"data":{"name":"tags"},"transform":[{"filter":"datum.k == 'b'"}],"mark":{"type":"tick","orient":"horizontal","size":27,"thickness":5.5,"opacity":1,"color":"#0000ff","yOffset":1},
 "encoding":{"x":{"datum":351.75,"type":"quantitative","axis":null},
  "y":{"field":"p","type":"quantitative","scale":{"domain":[1481.0,1560.86],"range":[274,0],"nice":false,"zero":false},"axis":null}}},
{"data":{"name":"tags"},"transform":[{"filter":"datum.k != 'w' && datum.k != 'b'"}],"mark":{"type":"text","align":"center","baseline":"middle","fontSize":6.3,"font":"Liberation Sans","color":"#000000"},
 "encoding":{"x":{"datum":351.75,"type":"quantitative","axis":null},
  "y":{"field":"p","type":"quantitative","scale":{"domain":[1481.0,1560.86],"range":[274,0],"nice":false,"zero":false},"axis":null},
  "text":{"field":"lab"}}},
{"data":{"name":"tags"},"transform":[{"filter":"datum.k == 'w'"}],"mark":{"type":"text","align":"center","baseline":"middle","fontSize":5.8,"font":"Liberation Sans","color":"#000000","dy":-1},
 "encoding":{"x":{"datum":351.75,"type":"quantitative","axis":null},
  "y":{"field":"p","type":"quantitative","scale":{"domain":[1481.0,1560.86],"range":[274,0],"nice":false,"zero":false},"axis":null},
  "text":{"field":"lab"}}},
{"data":{"name":"tags"},"transform":[{"filter":"datum.k == 'b'"}],"mark":{"type":"text","align":"center","baseline":"middle","fontSize":5.8,"font":"Liberation Sans","color":"#ffffff","dy":1.5},
 "encoding":{"x":{"datum":351.75,"type":"quantitative","axis":null},
  "y":{"field":"p","type":"quantitative","scale":{"domain":[1481.0,1560.86],"range":[274,0],"nice":false,"zero":false},"axis":null},
  "text":{"field":"lab"}}},
{"data":{"name":"one"},"mark":{"type":"rule","color":"#505050","strokeWidth":2},
 "encoding":{"x":{"datum":-4,"type":"quantitative","axis":null},"x2":{"datum":358.5},
  "y":{"datum":1561.15,"type":"quantitative","scale":{"domain":[1481.0,1560.86],"range":[274,0],"nice":false,"zero":false},"axis":null}}},
{"data":{"name":"one"},"mark":{"type":"text","align":"left","baseline":"middle","fontSize":13.3,"fontWeight":"bold","font":"Noto Sans CJK SC","color":"#ffff00","text":"伦敦金：1527—1528做空，止损1535，目标1514—1504."},
 "encoding":{"x":{"datum":43,"type":"quantitative","axis":null},
  "y":{"datum":1538.1,"type":"quantitative","scale":{"domain":[1481.0,1560.86],"range":[274,0],"nice":false,"zero":false},"axis":null}}},
{"data":{"name":"macdrules"},"mark":{"type":"rule","color":"#c0c0c0","strokeWidth":2},
 "encoding":{"x":{"datum":0,"type":"quantitative","axis":null},"x2":{"datum":344.5},
  "y":{"field":"v","type":"quantitative","scale":{"domain":[-8.6,6.7],"range":[335,276],"nice":false,"zero":false},
   "axis":{"orient":"right","offset":-29,"values":[0,6.164],"labelExpr":"datum.value==0 ? '0.00' : format(datum.value,'.3f')","tickSize":3,"labelPadding":0}}}},
{"data":{"name":"zero"},"mark":{"type":"rule","color":"#a8a8a8","strokeWidth":1,"strokeDash":[7,4]},
 "encoding":{"x":{"datum":0,"type":"quantitative","axis":null},"x2":{"datum":344.5},
  "y":{"field":"v","type":"quantitative","scale":{"domain":[-8.6,6.7],"range":[335,276],"nice":false,"zero":false},
   "axis":{"orient":"right","offset":-29,"values":[-7.934],"labelExpr":"'-7.934'","labelOffset":-1,"tickSize":3,"labelPadding":0,"domain":false}}}},
{"data":{"name":"candles"},"mark":{"type":"bar","size":1.5},
 "encoding":{"x":{"field":"n","type":"quantitative","axis":null},
  "y":{"field":"m","type":"quantitative","scale":{"domain":[-8.6,6.7],"range":[335,276],"nice":false,"zero":false},"axis":null},
  "y2":{"datum":0},
  "color":{"condition":{"test":"datum.m >= 0","value":"#a00000"},"value":"#00a060"}}},
{"data":{"name":"macd"},"mark":{"type":"line","strokeWidth":1.2,"interpolate":"monotone"},
 "encoding":{"x":{"field":"n","type":"quantitative","axis":null},
  "y":{"field":"v","type":"quantitative","scale":{"domain":[-8.6,6.7],"range":[335,276],"nice":false,"zero":false},"axis":null},
  "color":{"field":"s","type":"nominal","legend":null,"scale":{"domain":["navy","green","yellow","white","macd","sig","k","d","s"],"range":["#1c1ca8","#14a014","#c8c800","#c8c8c8","#20b8a8","#c01010","#8a3ee0","#d8d800","#20a8a0"]}}}},
{"data":{"name":"stochlev"},"mark":{"type":"rule","color":"#909090","strokeWidth":2,"strokeDash":[8,5]},
 "encoding":{"x":{"datum":0,"type":"quantitative","axis":null},"x2":{"datum":344.5},
  "y":{"field":"v","type":"quantitative","scale":{"domain":[-25.3103,117.9615],"range":[394.4,335.6],"nice":false,"zero":false},
   "axis":{"orient":"right","offset":-29,"values":[0],"labelExpr":"'0.00'","tickSize":3,"labelPadding":0}}}},
{"data":{"name":"stoch100"},"mark":{"type":"rule","color":"#909090","strokeWidth":2,"strokeDash":[8,5]},
 "encoding":{"x":{"datum":0,"type":"quantitative","axis":null},"x2":{"datum":344.5},
  "y":{"field":"v","type":"quantitative","scale":{"domain":[-25.3103,117.9615],"range":[394.4,335.6],"nice":false,"zero":false},
   "axis":{"orient":"right","offset":-29,"values":[100],"labelExpr":"'100'","labelOffset":2,"tickSize":3,"labelPadding":0,"domain":false}}}},
{"data":{"name":"stochbot"},"mark":{"type":"rule","color":"#c0c0c0","strokeWidth":2},
 "encoding":{"x":{"datum":0,"type":"quantitative","axis":null},"x2":{"datum":344.5},
  "y":{"field":"v","type":"quantitative","scale":{"domain":[-25.3103,117.9615],"range":[394.4,335.6],"nice":false,"zero":false},
   "axis":{"orient":"right","offset":-29,"values":[117.9615],"labelExpr":"'117.9615'","labelOffset":3,"tickSize":0,"domain":false,"labelPadding":3}}}},
{"data":{"name":"stoch"},"mark":{"type":"line","strokeWidth":1.1,"interpolate":"monotone"},
 "encoding":{"x":{"field":"n","type":"quantitative","axis":null},
  "y":{"field":"v","type":"quantitative","scale":{"domain":[-25.3103,117.9615],"range":[394.4,335.6],"nice":false,"zero":false},
   "axis":{"orient":"right","offset":-29,"values":[-25.3103],"labelExpr":"'-25.3103'","labelOffset":-4,"tickSize":0,"domain":false,"labelPadding":3}},
  "color":{"field":"s","type":"nominal","legend":null,"scale":{"domain":["navy","green","yellow","white","macd","sig","k","d","s"],"range":["#1c1ca8","#14a014","#c8c800","#c8c8c8","#20b8a8","#c01010","#8a3ee0","#d8d800","#20a8a0"]}}}},
{"data":{"name":"times"},"mark":{"type":"rule","color":"#b8b8b8","strokeWidth":1},
 "encoding":{"x":{"field":"n","type":"quantitative","axis":null},
  "y":{"datum":-24.5,"type":"quantitative","scale":{"domain":[-25.3103,117.9615],"range":[394.4,335.6],"nice":false,"zero":false},"axis":null},
  "y2":{"datum":-31.5}}},
{"data":{"name":"times"},"mark":{"type":"text","align":"left","baseline":"top","dx":1,"fontSize":7,"font":"Liberation Sans","color":"#d8d8d8"},
 "encoding":{"x":{"field":"n","type":"quantitative","axis":null},
  "y":{"datum":-27.5,"type":"quantitative","scale":{"domain":[-25.3103,117.9615],"range":[394.4,335.6],"nice":false,"zero":false},"axis":null},
  "text":{"field":"lab"}}},
{"data":{"name":"one"},"mark":{"type":"point","shape":"circle","filled":false,"size":2000,"strokeWidth":7,"color":"#a0a0a0","opacity":0.4},
 "encoding":{"x":{"datum":274.5,"type":"quantitative","axis":null},
  "y":{"datum":1464.7,"type":"quantitative","scale":{"domain":[1481.0,1560.86],"range":[274,0],"nice":false,"zero":false},"axis":null}}},
{"data":{"name":"one"},"mark":{"type":"point","shape":"square","filled":true,"size":190,"angle":20,"color":"#a0a0a0","opacity":0.4},
 "encoding":{"x":{"datum":275.5,"type":"quantitative","axis":null},
  "y":{"datum":1465.8,"type":"quantitative","scale":{"domain":[1481.0,1560.86],"range":[274,0],"nice":false,"zero":false},"axis":null}}},
{"data":{"name":"one"},"mark":{"type":"text","align":"center","baseline":"middle","fontSize":24,"fontWeight":"bold","font":"Liberation Sans","angle":330,"color":"#a0a0a0","opacity":0.4,"text":"91PME.COM"},
 "encoding":{"x":{"datum":323,"type":"quantitative","axis":null},
  "y":{"datum":1483.6,"type":"quantitative","scale":{"domain":[1481.0,1560.86],"range":[274,0],"nice":false,"zero":false},"axis":null}}},
{"data":{"name":"one"},"mark":{"type":"text","align":"center","baseline":"middle","fontSize":18,"font":"Noto Sans CJK SC","angle":332,"color":"#a0a0a0","opacity":0.4,"text":"鑫汇宝贵金属"},
 "encoding":{"x":{"datum":327,"type":"quantitative","axis":null},
  "y":{"datum":1477.0,"type":"quantitative","scale":{"domain":[1481.0,1560.86],"range":[274,0],"nice":false,"zero":false},"axis":null}}}
],
"resolve":{"scale":{"y":"independent"},"axis":{"y":"independent"}}
}
